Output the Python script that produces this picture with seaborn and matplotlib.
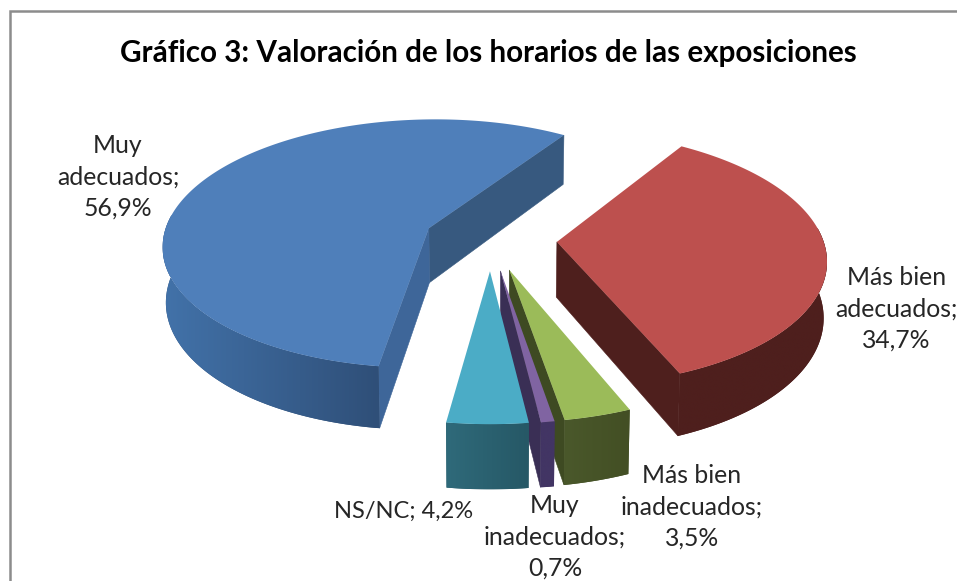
import numpy as np
import matplotlib
matplotlib.use("Agg")
import matplotlib.pyplot as plt
from matplotlib.colors import to_rgb
from matplotlib.path import Path
from matplotlib.patches import Polygon
from matplotlib.transforms import Transform
import seaborn as sns

# --- data ---
TITLE = "Gráfico 3: Valoración de los horarios de las exposiciones"
categories = ["Muy\nadecuados", "Más bien\nadecuados", "Más bien\ninadecuados",
              "Muy\ninadecuados", "NS/NC"]
values = [56.9, 34.7, 3.5, 0.7, 4.2]

# --- styles ---
top_colors = sns.color_palette(["#4f7fba", "#bd504e", "#9bbb59", "#8064a2", "#4bacc6"])
wall_left = ["#4272a9", "#4e1f1d", "#4a582b", "#423564", "#2f6a7a"]
wall_right = ["#2f4f78", "#4e1f1d", "#434f24", "#423564", "#265866"]
cut_lo = ["#37597f", "#4e1f1d", "#3e4a22", "#3a2f55", "#2f6a7a"]   # wall on theta1 edge
cut_hi = ["#3e6699", "#4e1f1d", "#3e4a22", "#3a2f55", "#2f6a7a"]   # wall on theta2 edge
label_xy = [(118, 177), (896.5, 309), (692, 507), (555, 537), (403.5, 511)]
label_size = [17.8, 17.8, 17.8, 17.8, 17.0]

sns.set_theme(style="white")
plt.rcParams["font.family"] = ["Lato", "DejaVu Sans"]

CX, CY, A, B, K, D = 490.5, 239.0, 266.0, 125.0, 0.125, 55.0


def project(X, Y, z=0.0):
    w = 1 + K * np.asarray(Y)
    return (CX + A * np.asarray(X) / w * (1 - 0.01 * z),
            CY + (-B * np.asarray(Y) + D * z) / w)


class Perspective(Transform):
    input_dims = output_dims = 2
    is_separable = False
    has_inverse = False

    def transform_non_affine(self, values):
        v = np.asarray(values, dtype=float)
        return np.column_stack(project(v[:, 0], v[:, 1]))

    def transform_path_non_affine(self, path):
        poly = Path(path.vertices * 2000, path.codes).to_polygons(closed_only=False)[0] / 2000
        return Path(self.transform_non_affine(poly))


fig = plt.figure(figsize=(9.57, 5.81), dpi=100, facecolor="white")
ax = fig.add_axes([0, 0, 1, 1])

wedges, _ = ax.pie(values, explode=[0.25] * len(values), startangle=262,
                   counterclock=False, colors=top_colors, radius=1,
                   wedgeprops=dict(linewidth=0))
ax.set_aspect("auto")
ax.axis("off")

persp = Perspective()
for i, w in enumerate(wedges):
    w.set_transform(persp + ax.transData)
    w.set_zorder(2 * i + 3)
    w.set_clip_on(False)
    c = np.asarray(w.center)
    t1, t2 = w.theta1, w.theta2

    # side walls along the cut edges
    for th, col, normal in ((t1, cut_lo[i], t1 - 90), (t2, cut_hi[i], t2 + 90)):
        if np.sin(np.radians(normal)) < 0:
            e = c + np.array([np.cos(np.radians(th)), np.sin(np.radians(th))])
            xs = [c[0], e[0], e[0], c[0]]
            ys = [c[1], e[1], e[1], c[1]]
            zs = [0, 0, 1, 1]
            px, py = project(np.array(xs), np.array(ys), np.array(zs))
            ax.add_patch(Polygon(np.column_stack([px, py]), closed=True, fc=col,
                                 ec=col, lw=0.4, zorder=2 * i + 2))

    # outer curved wall: horizontal gradient clipped to the wall outline
    th = np.linspace(t1, t2, 240)
    th = th[np.sin(np.radians(th)) < 0.12]
    if len(th) > 1:
        X = c[0] + np.cos(np.radians(th))
        Y = c[1] + np.sin(np.radians(th))
        tx, ty = project(X, Y, 0.0)
        bx, by = project(X, Y, 1.0)
        outline = np.vstack([np.column_stack([tx, ty]),
                             np.column_stack([bx, by])[::-1]])
        edge = Polygon(outline, closed=True, fc=wall_right[i], ec="none",
                       lw=0, zorder=2 * i + 2)
        ax.add_patch(edge)
        grad = np.linspace(to_rgb(wall_left[i]), to_rgb(wall_right[i]), 64)[None, :, :]
        im = ax.imshow(grad, extent=[outline[:, 0].min(), outline[:, 0].max(),
                                     outline[:, 1].max(), outline[:, 1].min()],
                       aspect="auto", interpolation="bilinear", zorder=2 * i + 2)
        im.set_clip_path(edge)

ax.set_aspect("auto")
ax.set_xlim(0, 957)
ax.set_ylim(581, 0)

# chart frame
ax.plot([9.5, 9.5, 957], [581, 10.5, 10.5], color="#8c8c8c", lw=1.8,
        solid_joinstyle="miter", zorder=1, clip_on=False)

ax.text(488.5, 53, TITLE, ha="center", va="center", fontsize=21.3,
        fontweight="bold", color="black", zorder=30)
for name, val, (x, y), fs in zip(categories, values, label_xy, label_size):
    pct = f"{val:.1f}".replace(".", ",")
    sep = "\n" if "\n" in name else " "
    ax.text(x, y, f"{name};{sep}{pct}%", ha="center", va="center", fontsize=fs,
            color="#262626", linespacing=1.45, zorder=30)

fig.savefig("out.png", dpi=100, facecolor="white")
